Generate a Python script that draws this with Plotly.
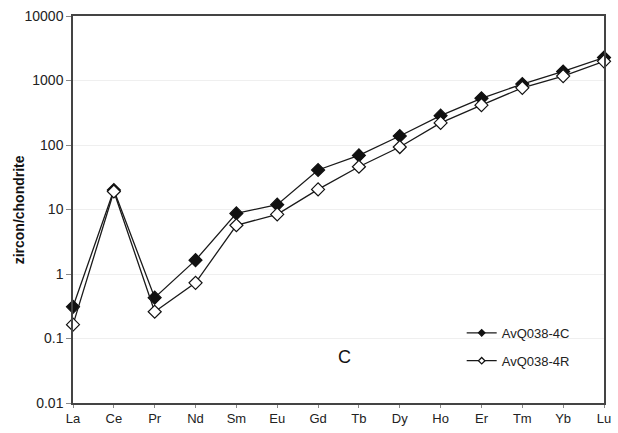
import plotly.graph_objects as go

# Chondrite-normalised REE patterns of zircon
elements = ["La", "Ce", "Pr", "Nd", "Sm", "Eu", "Gd", "Tb", "Dy", "Ho", "Er", "Tm", "Yb", "Lu"]
core_4c = [0.31, 20, 0.43, 1.64, 8.7, 11.9, 41, 69, 138, 285, 530, 880, 1380, 2270]
rim_4r = [0.164, 19, 0.26, 0.73, 5.7, 8.4, 20.5, 46, 93, 220, 415, 770, 1170, 1980]
ytick_vals = [0.01, 0.1, 1, 10, 100, 1000, 10000]
ytick_text = ["0.01", "0.1", "1", "10", "100", "1000", "10000"]

LINE = dict(color="#1a1a1a", width=1.3)
series = [
    ("AvQ038-4C", core_4c, "#111111"),
    ("AvQ038-4R", rim_4r, "#ffffff"),
]

fig = go.Figure()
for name, vals, fill in series:
    # pattern drawn on the chart
    fig.add_trace(go.Scatter(
        x=elements, y=vals, name=name, mode="lines+markers",
        line=LINE, showlegend=False, legendgroup=name,
        marker=dict(symbol="diamond", size=10, color=fill,
                    line=dict(color="#111111", width=1.2)),
        cliponaxis=False,
    ))
for name, vals, fill in series:
    # legend key with a smaller symbol
    fig.add_trace(go.Scatter(
        x=[None], y=[None], name=name, mode="lines+markers",
        line=LINE, showlegend=True, legendgroup=name,
        marker=dict(symbol="diamond", size=5, color=fill,
                    line=dict(color="#111111", width=1.2)),
    ))

fig.add_annotation(x=0.511, xref="paper", y=0.12, yref="paper",
                   text="C", showarrow=False,
                   font=dict(size=18, color="#111111"),
                   xanchor="center", yanchor="middle")

# vertical axis title
fig.add_annotation(x=-0.102, xref="paper", y=0.5, yref="paper",
                   text="<b>zircon/chondrite</b>", textangle=-90, showarrow=False,
                   font=dict(size=14, color="#111111"),
                   xanchor="center", yanchor="middle")

fig.update_layout(
    width=618, height=433,
    margin=dict(l=73, r=7, t=16, b=27),
    paper_bgcolor="#ffffff", plot_bgcolor="#ffffff",
    font=dict(family="Liberation Sans, Arial, sans-serif", size=12, color="#222222"),
    showlegend=True,
    legend=dict(x=0.732, y=0.22, xanchor="left", yanchor="top",
                bgcolor="rgba(255,255,255,0)", borderwidth=0,
                font=dict(size=13, color="#222222"),
                itemwidth=30, tracegroupgap=8),
)
fig.update_xaxes(
    type="category", range=[0, 13],
    showline=True, mirror=True, linecolor="#444444", linewidth=1.5,
    ticks="outside", ticklen=3, tickcolor="#888888",
    showgrid=False, zeroline=False,
    tickfont=dict(size=13, color="#222222"),
)
fig.update_yaxes(
    type="log", range=[-2, 4],
    tickvals=ytick_vals, ticktext=ytick_text,
    showline=True, mirror=True, linecolor="#444444", linewidth=1.5,
    ticks="outside", ticklen=5, tickcolor="#888888",
    showgrid=True, gridcolor="#efefef", gridwidth=1,
    zeroline=False,
    tickfont=dict(size=14, color="#222222"),
)

fig.write_html("out.html")
